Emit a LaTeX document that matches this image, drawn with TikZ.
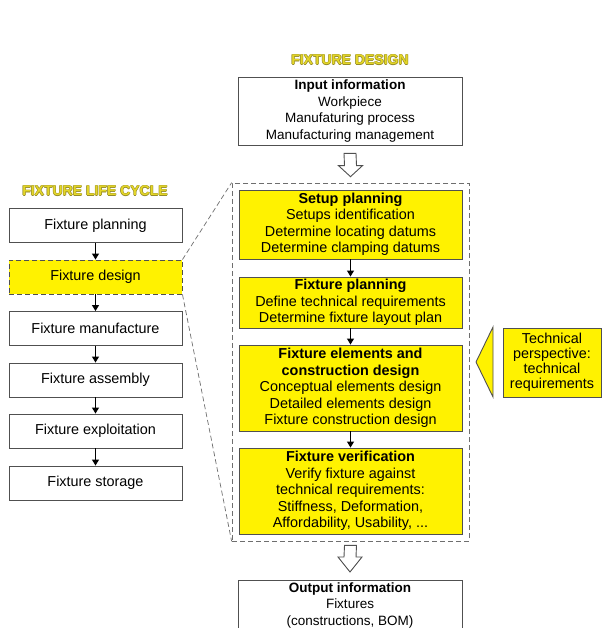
\documentclass[tikz,border=0pt]{standalone}
\usepackage{fontspec}
\setmainfont{Liberation Sans}
\usetikzlibrary{arrows.meta,calc}
\definecolor{yfill}{RGB}{255,242,0}
\definecolor{ytitle}{RGB}{228,214,40}
\definecolor{ytitleedge}{RGB}{150,140,40}
\definecolor{edge}{RGB}{80,80,80}
\definecolor{dedge}{RGB}{110,110,110}
\newcommand{\ttl}[1]{#1}
\tikzset{
  wbox/.style={draw=edge, line width=0.9pt, fill=white, align=center, inner sep=0pt,
     font=\fontsize{14.4}{16.5}\selectfont},
  ybox/.style={wbox, fill=yfill},
  iobox/.style={wbox, font=\fontsize{13.5}{16.4}\selectfont},
  lbox/.style={wbox, minimum width=173pt, minimum height=34pt},
  rbox/.style={ybox, minimum width=223pt},
  conn/.style={line width=1pt, -{Triangle[width=7pt,length=6pt]}},
  hollow/.style={draw=edge, line width=0.9pt, fill=white, line join=miter},
  link/.style={draw=dedge, line width=0.7pt, dash pattern=on 5pt off 3pt},
  titlestyle/.style={font=\fontsize{14}{16}\selectfont\bfseries, text=ytitle, inner sep=0pt}
}
\begin{document}
\begin{tikzpicture}[x=1pt,y=-1pt]
\clip (0,0) rectangle (602,628);
\fill[white] (0,0) rectangle (602,628);

% titles
\foreach \dx/\dy in {-0.6/0,0.6/0,0/-0.6,0/0.6}{
  \node[titlestyle,text=ytitleedge] at ($(350,60)+(\dx,\dy)$) {FIXTURE DESIGN};
  \node[titlestyle,text=ytitleedge] at ($(95,191)+(\dx,\dy)$) {FIXTURE LIFE CYCLE};
}
\node[titlestyle] (t1) at (350,60) {FIXTURE DESIGN};
\node[titlestyle] (t2) at (95,191) {FIXTURE LIFE CYCLE};

% input / output
\node[iobox, minimum width=224pt, minimum height=68pt] (in) at (350,111)
  {\textbf{Input information}\\Workpiece\\Manufaturing process\\Manufacturing management};
\node[iobox, minimum width=224pt, minimum height=50pt, anchor=north] (out) at (350,580)
  {\textbf{Output information}\\Fixtures\\(constructions, BOM)};

% dashed design box
\node[link, minimum width=237pt, minimum height=358pt, inner sep=0pt] (dbox) at (350.5,362) {};

% right yellow boxes
\node[rbox, minimum height=69pt] (sp) at (350.5,224.5)
  {\textbf{Setup planning}\\Setups identification\\Determine locating datums\\Determine clamping datums};
\node[rbox, minimum height=51pt] (fp) at (350.5,302.5)
  {\textbf{Fixture planning}\\Define technical requirements\\Determine fixture layout plan};
\node[rbox, minimum height=86pt] (fe) at (350.5,388)
  {\textbf{Fixture elements and}\\\textbf{construction design}\\Conceptual elements design\\Detailed elements design\\Fixture construction design};
\node[rbox, minimum height=86pt] (fv) at (350.5,491)
  {\textbf{Fixture verification}\\Verify fixture against\\technical requirements:\\Stiffness, Deformation,\\Affordability, Usability, ...};

\draw[conn] (sp) -- (fp);
\draw[conn] (fp) -- (fe);
\draw[conn] (fe) -- (fv);

% left life-cycle boxes
\node[lbox] (l1) at (95.5,225.5) {Fixture planning};
\node[lbox, fill=yfill, draw=edge, dash pattern=on 5pt off 3pt] (l2) at (95.5,277) {Fixture design};
\node[lbox] (l3) at (95.5,328.5) {Fixture manufacture};
\node[lbox] (l4) at (95.5,380) {Fixture assembly};
\node[lbox] (l5) at (95.5,431) {Fixture exploitation};
\node[lbox] (l6) at (95.5,483) {Fixture storage};

\draw[conn] (l1) -- (l2);
\draw[conn] (l2) -- (l3);
\draw[conn] (l3) -- (l4);
\draw[conn] (l4) -- (l5);
\draw[conn] (l5) -- (l6);

% zoom links
\draw[link] (l2.north east) -- (dbox.north west);
\draw[link] (l2.south east) -- (dbox.south west);

% hollow arrows
\coordinate (h1t) at ($(in.south)+(0,8)$);
\coordinate (h1b) at ($(dbox.north)+(0,-6)$);
\draw[hollow] ($(h1t)+(-6,0)$) -- ($(h1t)+(6,0)$) -- ($(h1b)+(6,-11)$) -- ($(h1b)+(12,-11)$)
  -- (h1b) -- ($(h1b)+(-12,-11)$) -- ($(h1b)+(-6,-11)$) -- cycle;
\coordinate (h2t) at ($(dbox.south)+(0,4)$);
\coordinate (h2b) at ($(out.north)+(0,-8)$);
\draw[hollow] ($(h2t)+(-6,0)$) -- ($(h2t)+(6,0)$) -- ($(h2b)+(6,-15)$) -- ($(h2b)+(12,-15)$)
  -- (h2b) -- ($(h2b)+(-12,-15)$) -- ($(h2b)+(-6,-15)$) -- cycle;

% technical perspective
\node[ybox, minimum width=98pt, minimum height=69pt, font=\fontsize{14.4}{15}\selectfont] (tp) at (552,362.5)
  {Technical\\perspective:\\technical\\requirements};
\coordinate (tip) at (476,362);
\draw[draw=edge, line width=0.9pt, fill=yfill, line join=miter]
  (tip) -- (493,327) -- (493,397) -- cycle;
\end{tikzpicture}
\end{document}
